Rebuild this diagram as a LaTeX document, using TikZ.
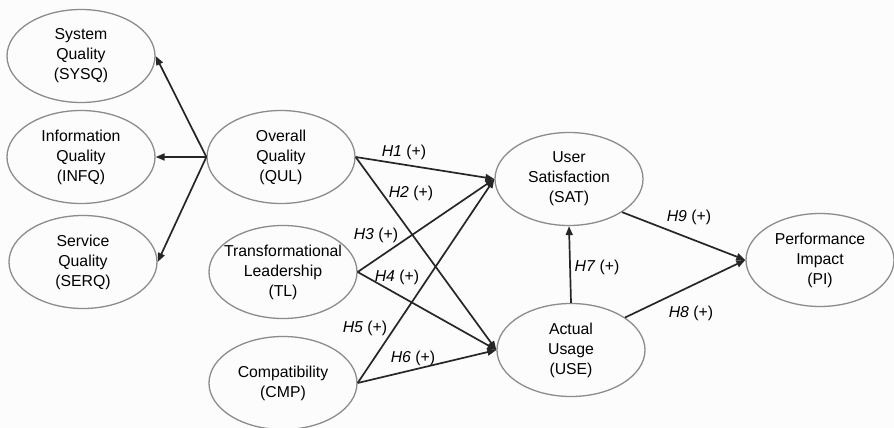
\documentclass[tikz,border=0pt]{standalone}
\usepackage{fontspec}
\setmainfont{Liberation Sans}
\usetikzlibrary{shapes.geometric,arrows.meta}
\begin{document}
\begin{tikzpicture}[x=1pt,y=-1pt,
  construct/.style={ellipse,draw=black!45,line width=1.3pt,minimum width=148pt,minimum height=93pt,inner sep=0pt},
  ctext/.style={align=center,font=\fontsize{15.8}{20}\selectfont,inner sep=0pt},
  link/.style={draw=black!85,line width=1.7pt,-{Triangle[length=9pt,width=7pt]}},
  hyp/.style={font=\fontsize{15.8}{20}\selectfont,inner sep=0pt}]
\fill[white!99!black] (0,0) rectangle (894,428);
\useasboundingbox (0,0) rectangle (894,428);
% ellipses
\node[construct] (SYSQ) at (81,56) {};
\node[construct] (INFQ) at (81,157) {};
\node[construct] (SERQ) at (83,262) {};
\node[construct] (QUL) at (281,157) {};
\node[construct] (TL) at (283,272) {};
\node[construct] (CMP) at (283,383) {};
\node[construct] (SAT) at (569,179) {};
\node[construct] (USE) at (571,350) {};
\node[construct] (PI) at (820,260) {};
% texts
\node[ctext] (SYSQt) at (SYSQ) {System\\Quality\\(SYSQ)};
\node[ctext] (INFQt) at (INFQ) {Information\\Quality\\(INFQ)};
\node[ctext] (SERQt) at (SERQ) {Service\\Quality\\(SERQ)};
\node[ctext] (QULt) at (QUL) {Overall\\Quality\\(QUL)};
\node[ctext] (TLt) at (TL) {Transformational\\Leadership\\(TL)};
\node[ctext] (CMPt) at (CMP) {Compatibility\\(CMP)};
\node[ctext] (SATt) at (SAT) {User\\Satisfaction\\(SAT)};
\node[ctext] (USEt) at (USE) {Actual\\Usage\\(USE)};
\node[ctext] (PIt) at (PI) {Performance\\Impact\\(PI)};
% connectors
\draw[link] (QUL.west) -- (SYSQ.east);
\draw[link] (QUL.west) -- (INFQ.east);
\draw[link] (QUL.west) -- (SERQ.east);
\draw[link] (QUL.east) -- (SAT.west);
\draw[link] (QUL.east) -- (USE.west);
\draw[link] (TL.east) -- (SAT.west);
\draw[link] (TL.east) -- (USE.west);
\draw[link] (CMP.east) -- (SAT.west);
\draw[link] (CMP.east) -- (USE.west);
\draw[link] (USE.north) -- (SAT.south);
\draw[link] (SAT.-32) -- (PI.west);
\draw[link] (USE.31) -- (PI.west);
% labels
\node[hyp] (h1) at (404,152) {\textit{H1} (+)};
\node[hyp] (h2) at (411,193) {\textit{H2} (+)};
\node[hyp] (h3) at (376,235) {\textit{H3} (+)};
\node[hyp] (h4) at (397,277) {\textit{H4} (+)};
\node[hyp] (h5) at (365,328) {\textit{H5} (+)};
\node[hyp] (h6) at (413,358) {\textit{H6} (+)};
\node[hyp] (h7) at (597,267) {\textit{H7} (+)};
\node[hyp] (h9) at (689,217) {\textit{H9} (+)};
\node[hyp] (h8) at (691,313) {\textit{H8} (+)};
\end{tikzpicture}
\end{document}
